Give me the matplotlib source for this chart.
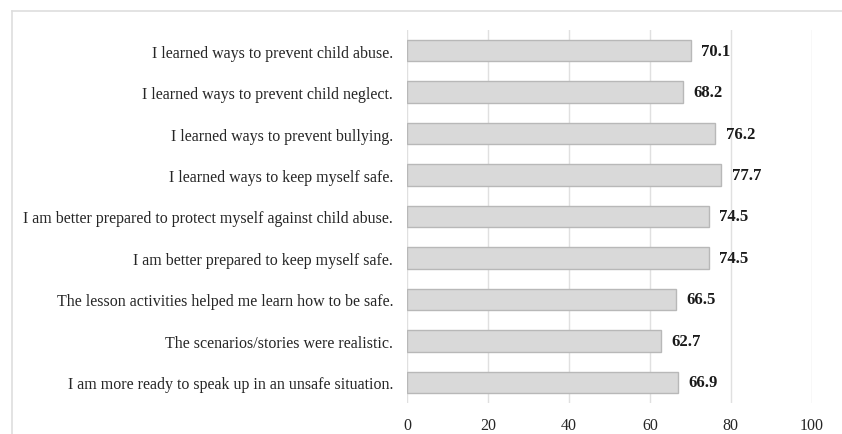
import matplotlib
matplotlib.use('Agg')
import matplotlib.pyplot as plt
from matplotlib.lines import Line2D

statements = [
    "I learned ways to prevent child abuse.",
    "I learned ways to prevent child neglect.",
    "I learned ways to prevent bullying.",
    "I learned ways to keep myself safe.",
    "I am better prepared to protect myself against child abuse.",
    "I am better prepared to keep myself safe.",
    "The lesson activities helped me learn how to be safe.",
    "The scenarios/stories were realistic.",
    "I am more ready to speak up in an unsafe situation.",
]
percent = [70.1, 68.2, 76.2, 77.7, 74.5, 74.5, 66.5, 62.7, 66.9]
xticks = [0, 20, 40, 60, 80, 100]

plt.rcParams['font.family'] = ['Liberation Serif', 'DejaVu Serif']

W, H = 842, 435
fig = plt.figure(figsize=(W / 100, H / 100), dpi=100)
ax = fig.add_axes([407 / W, 1 - 404 / H, (811.7 - 407) / W, (404 - 31) / H])

ypos = list(range(len(statements)))
ax.barh(ypos, percent, height=0.52, color='#d9d9d9', edgecolor='#b8b8b8',
        linewidth=1.0, zorder=3)

for y, v in zip(ypos, percent):
    ax.annotate(f"{v:.1f}", xy=(v, y), xytext=(7.5, 0), textcoords='offset points',
                va='center', ha='left', fontsize=12, fontweight='bold', color='#1a1a1a')

ax.set_xlim(0, 100)
ax.set_ylim(len(statements) - 0.5, -0.5)
ax.set_xticks(xticks)
ax.set_yticks(ypos)
ax.set_yticklabels(statements)
ax.tick_params(axis='both', length=0, labelsize=11.5, colors='#262626')
ax.tick_params(axis='y', pad=10)
ax.tick_params(axis='x', pad=10)
ax.xaxis.grid(True, color='#e0e0e0', linewidth=1.0, zorder=0)
for s in ax.spines.values():
    s.set_visible(False)

# outer frame (only top and left edges visible)
fig.add_artist(Line2D([12 / W, 1], [1 - 12 / H, 1 - 12 / H], color='#dedede', linewidth=1.2))
fig.add_artist(Line2D([12 / W, 12 / W], [1 - 12 / H, 0], color='#dedede', linewidth=1.2))

fig.savefig('out.png', dpi=100, facecolor='white')
